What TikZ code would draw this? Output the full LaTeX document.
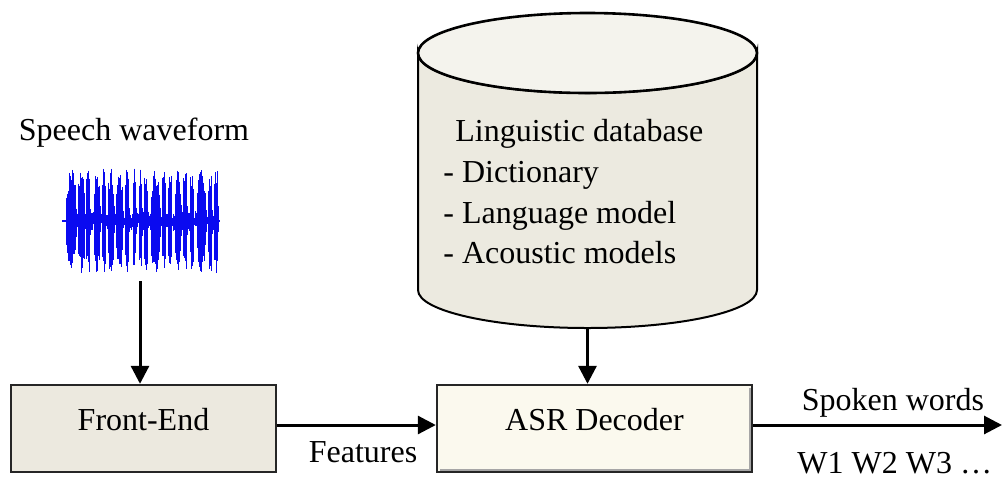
\documentclass[tikz,border=0pt]{standalone}
\usepackage{fontspec}
\setmainfont{Liberation Serif}
\usetikzlibrary{arrows.meta}
\definecolor{cylbody}{HTML}{ECEAE0}
\definecolor{cyltop}{HTML}{F4F3ED}
\definecolor{fefill}{HTML}{ECE9DF}
\definecolor{asrfill}{HTML}{FBF9EE}
\definecolor{wavecol}{HTML}{0A0AF0}
\tikzset{
  lbl/.style={inner sep=0pt, font=\fontsize{16}{19}\selectfont},
  blockbox/.style={draw=black!85, line width=1.2pt, inner sep=0pt},
  conn/.style={line width=1.5pt, -{Triangle[length=9pt,width=9pt]}},
  wave/.style={wavecol, line width=0.5pt},
}
\begin{document}
\begin{tikzpicture}[x=0.5pt,y=-0.5pt]
\useasboundingbox (0,0) rectangle (1003,484);
% cylinder (linguistic database)
\path[fill=cylbody, draw=black, line width=1pt]
  (418,53) -- (418,290) arc[start angle=180,end angle=360,x radius=84.75pt,y radius=19pt]
  -- (757,53) arc[start angle=360,end angle=180,x radius=84.75pt,y radius=20pt] -- cycle;
\draw[fill=cyltop, line width=1.3pt] (587.5,53) ellipse[x radius=84.75pt, y radius=20pt];
\node[minimum width=169.5pt, minimum height=157.5pt, inner sep=0pt] (db) at (587.5,170.5) {};
\node[lbl, anchor=base west] (l1) at (455,141) {Linguistic database};
\node[lbl, anchor=base west] (l2) at (443,182) {- Dictionary};
\node[lbl, anchor=base west] (l3) at (443,223) {- Language model};
\node[lbl, anchor=base west] (l4) at (443,263) {- Acoustic models};
% speech waveform
\node[lbl, anchor=base] (speech) at (134,140) {Speech waveform};
\node[minimum width=80pt, minimum height=55pt, inner sep=0pt] (wave) at (140,222) {};
\draw[wavecol, line width=0.6pt] (62,221) -- (220,221);
\pgfmathsetseed{5}
\foreach \i in {0,...,200}{
  \pgfmathsetmacro\xx{66+0.76*\i}
  \pgfmathsetmacro\up{2+8*rnd}
  \pgfmathsetmacro\dn{2+8*rnd}
  \draw[wave] (\xx,221-\up) -- (\xx,221+\dn);
}
\foreach \a/\b in {66/77,78/85,86/91,94/100,102/106,108/114,116/123,125/130,133/136,139/142,144/148,151/160,162/166,168/172,175/181,183/188,190/194,197/206,208/213,214/219}{
  \pgfmathtruncatemacro\nn{(\b-\a)/0.75}
  \foreach \k in {0,...,\nn}{
    \pgfmathsetmacro\xx{\a+0.75*\k}
    \pgfmathsetmacro\tt{sin(180*\k/\nn)}
    \pgfmathsetmacro\up{54*(0.3+0.7*sqrt(\tt))*(0.65+0.35*rnd)}
    \pgfmathsetmacro\dn{54*(0.3+0.7*sqrt(\tt))*(0.65+0.35*rnd)}
    \draw[wave] (\xx,221-\up) -- (\xx,221+\dn);
  }
}
% blocks
\node[blockbox, fill=fefill, minimum width=132.5pt, minimum height=43.5pt] (fe) at (143.5,428.5) {};
\node[lbl, anchor=base] (fet) at (143.5,430) {Front-End};
\node[blockbox, fill=asrfill, minimum width=157.5pt, minimum height=43.5pt] (asr) at (594.5,428.5) {};
\draw[black!35, line width=0.6pt] (440,470) -- (750,470) -- (750,388);
\node[lbl, anchor=base] (asrt) at (594.5,430) {ASR Decoder};
% connectors
\draw[conn] ([yshift=-2pt]wave.south) -- (wave.south |- fe.north);
\draw[conn] ([yshift=1.75pt]fe.east) -- ([yshift=1.75pt]asr.west);
\node[lbl, anchor=base] (feat) at (363,462) {Features};
\draw[conn] (db.south) -- (db.south |- asr.north);
\coordinate (outend) at (1002,425);
\draw[conn] ([yshift=1.75pt]asr.east) -- (outend);
\node[lbl, anchor=base] (spoken) at (893,410) {Spoken words};
\node[lbl, anchor=base west] (words) at (797,473) {W1 W2 W3 …};
\end{tikzpicture}
\end{document}
